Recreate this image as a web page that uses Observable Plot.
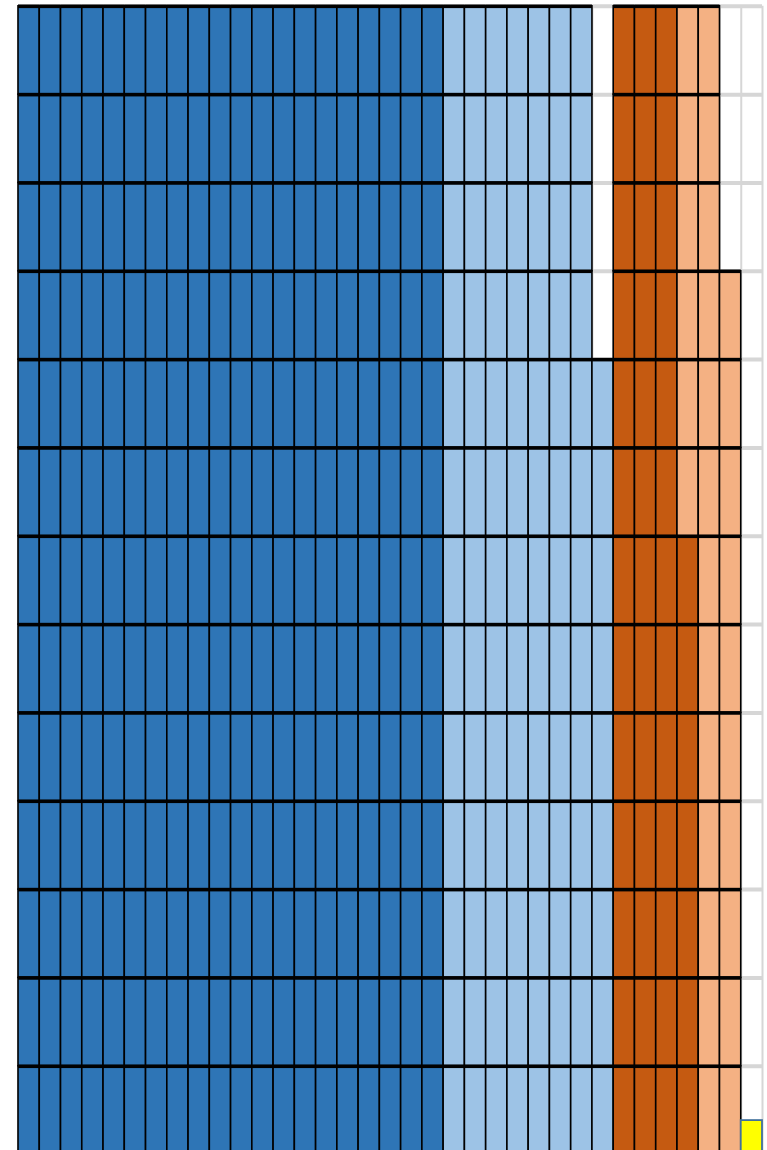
<!DOCTYPE html>
<html>
<head>
<meta charset="utf-8">
<script src="https://cdn.jsdelivr.net/npm/d3@7"></script>
<script src="https://cdn.jsdelivr.net/npm/@observablehq/plot@0.6"></script>
<style>
  html, body { margin: 0; padding: 0; background: #fff; overflow: hidden; }
</style>
</head>
<body>
<div id="chart"></div>
<script>
// 13 rows, 35 unit columns; two groups: blue (slots 0-27), orange (slots 28-34)
const rows = d3.range(13);
const nCols = 35;
const blueSlots = 28;           // first column of the orange group
const darkBlue    = [20,20,20,20,20,20,20,20,20,20,20,20,20];
const lightBlue   = [7, 7, 7, 7, 8, 8, 8, 8, 8, 8, 8, 8, 8];
const darkOrange  = [3, 3, 3, 3, 3, 3, 4, 4, 4, 4, 4, 4, 4];
const lightOrange = [2, 2, 2, 3, 3, 3, 2, 2, 2, 2, 2, 2, 2];
const seriesNames = ["darkBlue", "lightBlue", "darkOrange", "lightOrange"];
const seriesColors = ["#2e75b6", "#9dc3e6", "#c55a11", "#f4b183"];
// highlighted marker cell (row, column, fraction of the row where it begins)
const marker = [{row: 12, col: 34, start: 0.615}];

const cells = [];
for (const r of rows) {
  let c = 0;
  for (let i = 0; i < darkBlue[r]; i++) cells.push({row: r, col: c++, s: "darkBlue"});
  for (let i = 0; i < lightBlue[r]; i++) cells.push({row: r, col: c++, s: "lightBlue"});
  c = blueSlots;
  for (let i = 0; i < darkOrange[r]; i++) cells.push({row: r, col: c++, s: "darkOrange"});
  for (let i = 0; i < lightOrange[r]; i++) cells.push({row: r, col: c++, s: "lightOrange"});
}

const chart = Plot.plot({
  width: 767,
  height: 1160,
  marginLeft: 18,
  marginRight: 5,
  marginTop: 5.8,
  marginBottom: 5.9,
  x: {domain: [0, nCols], axis: null},
  y: {domain: [0, rows.length], reverse: true, axis: null},
  color: {domain: seriesNames, range: seriesColors},
  marks: [
    Plot.ruleX(d3.range(nCols + 1), {stroke: "#d6d6d6", strokeWidth: 2}),
    Plot.ruleY(d3.range(rows.length + 1), {stroke: "#d6d6d6", strokeWidth: 4}),
    Plot.rect(cells, {
      x1: "col", x2: d => d.col + 1,
      y1: "row", y2: d => d.row + 1,
      fill: "s", stroke: "black", strokeWidth: 1.6
    }),
    Plot.ruleY(cells, {y: "row", x1: "col", x2: d => d.col + 1, stroke: "black", strokeWidth: 3.6}),
    Plot.rect(marker, {
      x1: "col", x2: d => d.col + 1,
      y1: d => d.row + d.start, y2: d => d.row + 1,
      fill: "#ffff00", stroke: "#41719c", strokeWidth: 1.8
    })
  ]
});
document.getElementById("chart").appendChild(chart);
</script>
</body>
</html>
